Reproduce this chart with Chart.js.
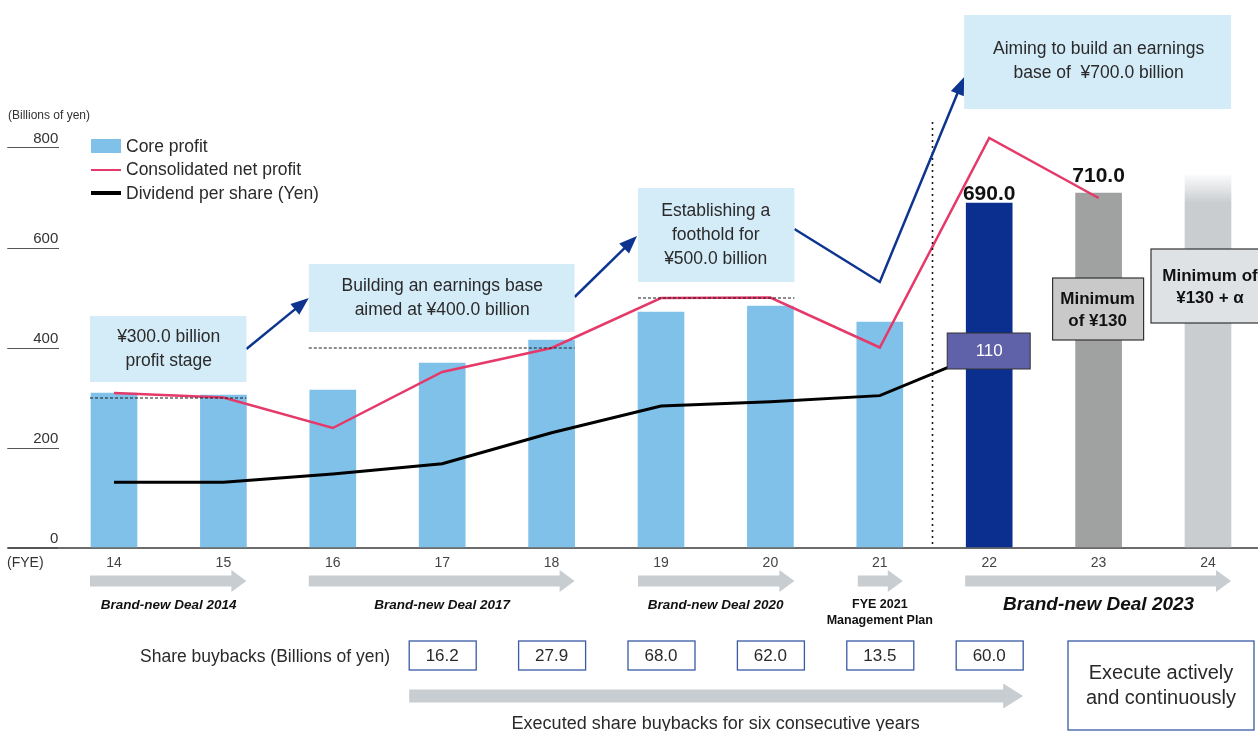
<!DOCTYPE html>
<html><head><meta charset="utf-8">
<script src="https://cdn.jsdelivr.net/npm/chart.js@4.4.0/dist/chart.umd.min.js"></script>
<style>
html,body{margin:0;padding:0;overflow:hidden;background:#fff;width:1258px;height:731px}
#wrap{position:absolute;left:0;top:0;width:1270px;height:731px}
</style>
</head><body><div id="wrap"><canvas id="c" width="1270" height="731"></canvas></div>
<script>
// ---- data ----
const years = ['14','15','16','17','18','19','20','21','22','23','24'];
const coreProfit = [310,306,316,370,416,472,484,452,690,710,746];
const netProfit = [310,301,240,352,400,500,501,401,820,700,null];
const dividendYen = [46,46,50,55,70,83,85,88,110,null,null];
const yTickValues = [0,200,400,600,800];
const buybackYears = ['17','18','19','20','21','22'];
const buybacks = ['16.2','27.9','68.0','62.0','13.5','60.0'];
const barLabels = {'22':'690.0','23':'710.0'};

const F = '"Liberation Sans", Arial, Helvetica, sans-serif';
Chart.defaults.font.family = F;

const barColor = ctx => {
  const i = ctx.dataIndex;
  if (i < 8) return '#80c1ea';
  if (i === 8) return '#0b2f8e';
  if (i === 9) return '#a0a1a1';
  const ch = ctx.chart;
  if (!ch.chartArea) return '#c9cdd0';
  const y = ch.scales.y;
  const g = ch.ctx.createLinearGradient(0, y.getPixelForValue(coreProfit[10]), 0, y.getPixelForValue(690));
  g.addColorStop(0, 'rgba(201,205,208,0.08)');
  g.addColorStop(1, 'rgba(201,205,208,1)');
  return g;
};

const overlay = {
  id: 'overlay',
  afterDatasetsDraw(chart) {
    const c = chart.ctx, xs = chart.scales.x, ys = chart.scales.y;
    const X = i => xs.getPixelForValue(i), Y = v => ys.getPixelForValue(v);
    const idx = y => years.indexOf(y);
    c.save();
    const txt = (s, x, y, font, color = '#2a2a2a', align = 'center', base = 'middle') => {
      c.font = font; c.fillStyle = color; c.textAlign = align; c.textBaseline = base; c.fillText(s, x, y);
    };
    const lines = (arr, x, yc, gap, font, color) => {
      const n = arr.length;
      arr.forEach((s, k) => txt(s, x, yc + (k - (n - 1) / 2) * gap, font, color));
    };
    const rect = (x1, y1, x2, y2, fill, stroke, lw) => {
      if (fill) { c.fillStyle = fill; c.fillRect(x1, y1, x2 - x1, y2 - y1); }
      if (stroke) { c.strokeStyle = stroke; c.lineWidth = lw || 1; c.setLineDash([]); c.strokeRect(x1, y1, x2 - x1, y2 - y1); }
    };
    const dotted = (x1, y1, x2, y2, dash, lw) => {
      c.beginPath(); c.setLineDash(dash); c.lineWidth = lw; c.strokeStyle = '#1a1a1a';
      c.moveTo(x1, y1); c.lineTo(x2, y2); c.stroke(); c.setLineDash([]);
    };
    const arrow = (pts, color, lw, hl, hw) => {
      const n = pts.length;
      const [ax, ay] = pts[n - 2], [bx, by] = pts[n - 1];
      const d = Math.hypot(bx - ax, by - ay), ux = (bx - ax) / d, uy = (by - ay) / d;
      const baseX = bx - ux * hl, baseY = by - uy * hl;
      c.strokeStyle = color; c.lineWidth = lw; c.lineJoin = 'miter'; c.setLineDash([]);
      c.beginPath(); c.moveTo(pts[0][0], pts[0][1]);
      for (let k = 1; k < n - 1; k++) c.lineTo(pts[k][0], pts[k][1]);
      c.lineTo(baseX + ux * 2, baseY + uy * 2); c.stroke();
      c.fillStyle = color; c.beginPath();
      c.moveTo(bx, by);
      c.lineTo(baseX - uy * hw, baseY + ux * hw);
      c.lineTo(baseX + uy * hw, baseY - ux * hw);
      c.closePath(); c.fill();
    };
    const fat = (x1, x2, yc, sh, hh, hl, color) => {
      c.fillStyle = color; c.beginPath();
      c.moveTo(x1, yc - sh / 2); c.lineTo(x2 - hl, yc - sh / 2); c.lineTo(x2 - hl, yc - hh / 2);
      c.lineTo(x2, yc); c.lineTo(x2 - hl, yc + hh / 2); c.lineTo(x2 - hl, yc + sh / 2);
      c.lineTo(x1, yc + sh / 2); c.closePath(); c.fill();
    };

    // dotted reference lines
    dotted(X(0) - 24, Y(300), X(1) + 23, Y(300), [3, 2], 1);
    dotted(X(2) - 24, Y(400), X(4) + 23, Y(400), [3, 2], 1);
    dotted(X(5) - 23, Y(500), X(6) + 24, Y(500), [3, 2], 1);
    dotted((X(7) + X(8)) / 2 - 2, Y(852), (X(7) + X(8)) / 2 - 2, Y(0), [2, 4], 1.6);

    // blue arrows
    const blue = '#0d3590';
    arrow([[X(1) + 23, Y(398)], [X(2) - 24, Y(500)]], blue, 2.5, 18, 7);
    arrow([[X(4) + 23, Y(502)], [X(5) - 24, Y(624)]], blue, 2.5, 18, 7);
    arrow([[X(6) + 24, Y(638)], [X(7), Y(532)], [X(8) - 25, Y(942)]], blue, 2.5, 18, 7);

    // light blue stage boxes
    const lb = '#d4ebf8';
    const T = '17.5px ' + F;
    rect(X(0) - 24, Y(464), X(1) + 23, Y(332), lb);
    lines(['¥300.0 billion', 'profit stage'], (X(0) + X(1)) / 2, Y(398), 24, T);
    rect(X(2) - 24, Y(568), X(4) + 23, Y(432), lb);
    lines(['Building an earnings base', 'aimed at ¥400.0 billion'], X(3), Y(500), 24, T);
    rect(X(5) - 23, Y(720), X(6) + 24, Y(532), lb);
    lines(['Establishing a', 'foothold for', '¥500.0 billion'], (X(5) + X(6)) / 2, Y(626), 24, T);
    rect(X(8) - 25, Y(1066), X(10) + 23, Y(878), lb);
    lines(['Aiming to build an earnings', 'base of  ¥700.0 billion'], X(9), Y(974), 24, T);

    // bar value labels
    txt(barLabels['22'], X(8), Y(coreProfit[8]) - 3, 'bold 21px ' + F, '#111', 'center', 'alphabetic');
    txt(barLabels['23'], X(9), Y(coreProfit[9]) - 11, 'bold 21px ' + F, '#111', 'center', 'alphabetic');

    // dividend boxes
    rect(X(8) - 42, Y(430), X(8) + 41, Y(358), '#5f62a8', '#333', 1);
    txt('110', X(8), Y(394), '17px ' + F, '#fff');
    rect(X(9) - 46, Y(540), X(9) + 45, Y(416), '#c8c9c8', '#333', 1.2);
    lines(['Minimum', 'of ¥130'], X(9) - 1, Y(476), 22, 'bold 17px ' + F, '#111');
    rect(X(10) - 57, Y(598), X(10) + 58, Y(450), '#dee2e5', '#333', 1.2);
    lines(['Minimum of', '¥130 + α'], X(10) + 2, Y(522), 22, 'bold 17px ' + F, '#111');

    // legend
    c.fillStyle = '#80c1ea'; c.fillRect(91, 139, 30, 14);
    c.strokeStyle = '#e5396a'; c.lineWidth = 2; c.beginPath(); c.moveTo(91, 170); c.lineTo(121, 170); c.stroke();
    c.strokeStyle = '#000'; c.lineWidth = 4; c.beginPath(); c.moveTo(91, 193); c.lineTo(121, 193); c.stroke();
    txt('Core profit', 126, 147, '17.5px ' + F, '#2a2a2a', 'left');
    txt('Consolidated net profit', 126, 170, '17.5px ' + F, '#2a2a2a', 'left');
    txt('Dividend per share (Yen)', 126, 194, '17.5px ' + F, '#2a2a2a', 'left');
    txt('(Billions of yen)', 8, 116, '12px ' + F, '#333', 'left');
    txt('(FYE)', 7, 563, '14px ' + F, '#333', 'left');

    // plan arrows
    const g = '#c8cdd1';
    const ay = 581;
    fat(X(0) - 24, X(1) + 23, ay, 11, 22, 15, g);
    fat(X(2) - 24, X(4) + 23, ay, 11, 22, 15, g);
    fat(X(5) - 23, X(6) + 24, ay, 11, 22, 15, g);
    fat(X(7) - 22, X(7) + 23, ay, 11, 22, 15, g);
    fat(X(8) - 24, X(10) + 23, ay, 11, 22, 15, g);
    const BI = 'italic bold 13.5px ' + F;
    txt('Brand-new Deal 2014', (X(0) + X(1)) / 2, 605, BI, '#111');
    txt('Brand-new Deal 2017', X(3), 605, BI, '#111');
    txt('Brand-new Deal 2020', (X(5) + X(6)) / 2, 605, BI, '#111');
    txt('FYE 2021', X(7), 605, 'bold 12.5px ' + F, '#111');
    txt('Management Plan', X(7), 621, 'bold 12.5px ' + F, '#111');
    txt('Brand-new Deal 2023', X(9), 605, 'italic bold 19px ' + F, '#111');

    // share buybacks
    txt('Share buybacks (Billions of yen)', 390, 657, '17.5px ' + F, '#2a2a2a', 'right');
    buybackYears.forEach((yy, k) => {
      const i = idx(yy);
      rect(X(i) - 33, 641, X(i) + 34, 670, '#fff', '#3a5aa6', 1.3);
      txt(buybacks[k], X(i), 656, '17px ' + F, '#2a2a2a');
    });
    fat(X(idx(buybackYears[0])) - 33, X(idx(buybackYears[5])) + 34, 696, 13, 25, 20, g);
    txt('Executed share buybacks for six consecutive years', (X(5) + X(6)) / 2, 724, '18px ' + F, '#2a2a2a');
    rect(1068, 641, 1254, 730, '#fff', '#3a5aa6', 1.3);
    lines(['Execute actively', 'and continuously'], 1161, 686, 25, '20px ' + F, '#2a2a2a');

    c.restore();
  }
};

new Chart(document.getElementById('c'), {
  data: {
    labels: years,
    datasets: [
      { type: 'line', label: 'Dividend per share (Yen)', data: dividendYen, yAxisID: 'y2', order: 1,
        borderColor: '#000', borderWidth: 3, pointRadius: 0, tension: 0, spanGaps: false },
      { type: 'line', label: 'Consolidated net profit', data: netProfit, yAxisID: 'y', order: 2,
        borderColor: '#e5396a', borderWidth: 2.5, pointRadius: 0, tension: 0 },
      { type: 'bar', label: 'Core profit', data: coreProfit, yAxisID: 'y', order: 3,
        backgroundColor: barColor, barThickness: 46 }
    ]
  },
  options: {
    responsive: false, animation: false, devicePixelRatio: 1,
    layout: { padding: { left: 0, right: 7.3, top: 48, bottom: 0 } },
    plugins: { legend: { display: false }, tooltip: { enabled: false } },
    scales: {
      x: {
        type: 'category',
        afterFit: s => { s.height = 183; },
        grid: { display: true, drawOnChartArea: false, drawTicks: false },
        border: { display: true, color: '#6b6b6b', width: 2 },
        ticks: { font: { size: 14 }, color: '#444', padding: 7, maxRotation: 0 }
      },
      y: {
        min: 0, max: 1000,
        afterFit: s => { s.width = 59.3; },
        afterBuildTicks: s => { s.ticks = yTickValues.map(v => ({ value: v })); },
        grid: { drawOnChartArea: false, drawTicks: true, tickLength: 52,
                color: '#555', lineWidth: ctx => (ctx.tick && ctx.tick.value === 0 ? 2 : 1) },
        border: { display: false },
        ticks: { font: { size: 15 }, color: '#333', padding: -51, labelOffset: -9 }
      },
      y2: { display: false, min: 14.1, max: 256.6 }
    }
  },
  plugins: [overlay]
});
</script>
</body></html>
